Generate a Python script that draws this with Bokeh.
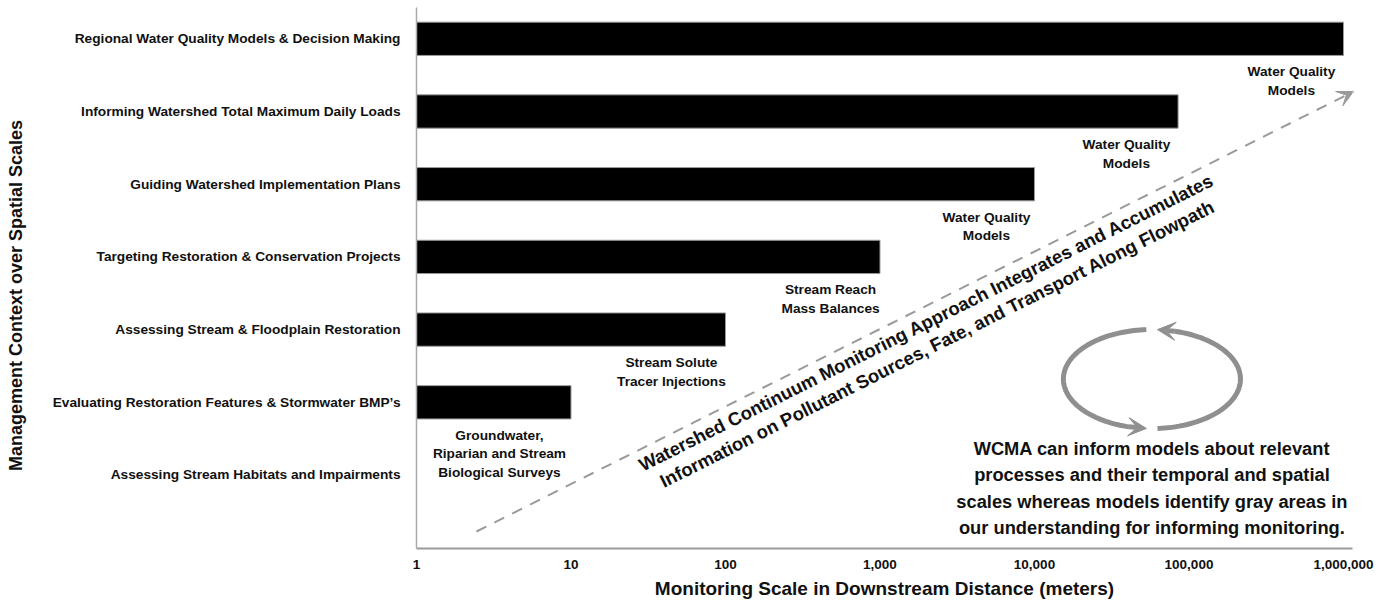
import numpy as np
from bokeh.plotting import figure
from bokeh.models import FixedTicker, NumeralTickFormatter, Arrow, VeeHead, LinearAxis
from bokeh.embed import file_html
from bokeh.resources import INLINE
from bokeh.core.properties import value

# ---------------- data ----------------
categories = [
    "Regional Water Quality Models & Decision Making",
    "Informing Watershed Total Maximum Daily Loads",
    "Guiding Watershed Implementation Plans",
    "Targeting Restoration & Conservation Projects",
    "Assessing Stream & Floodplain Restoration",
    "Evaluating Restoration Features & Stormwater BMP\u2019s",
    "Assessing Stream Habitats and Impairments",
]
scale_m = [1_000_000, 85_000, 10_000, 1_000, 100, 10, 1]
method_labels = [
    "Water Quality\nModels",
    "Water Quality\nModels",
    "Water Quality\nModels",
    "Stream Reach\nMass Balances",
    "Stream Solute\nTracer Injections",
    "Groundwater,\nRiparian and Stream\nBiological Surveys",
]
x_ticks = [1, 10, 100, 1_000, 10_000, 100_000, 1_000_000]
arrow_text = [
    "Watershed Continuum Monitoring Approach Integrates and Accumulates",
    "Information on Pollutant Sources, Fate, and Transport Along Flowpath",
]
wcma_text = ("WCMA can inform models about relevant\n"
             "processes and their temporal and spatial\n"
             "scales whereas models identify gray areas in\n"
             "our understanding for informing monitoring.")
x_title = "Monitoring Scale in Downstream Distance (meters)"
y_title = "Management Context over Spatial Scales"

# ---------------- layout (positions in log10-decades / row units) ----------------
FONT = "Liberation Sans"
n = len(categories)
rows = [n - 1 - i for i in range(n)]
method_label_dec = [5.663, 4.595, 3.689, 2.680, 1.650, 0.537]
GRAY = "#8f8f8f"
X_END_DEC = 936 / 154.5   # frame extends a little past 1,000,000

p = figure(width=1385, height=604, x_axis_type="log",
           x_range=(1, 10 ** X_END_DEC), y_range=(-1.011, 6.4305),
           output_backend="svg", toolbar_location=None,
           min_border_left=416, min_border_right=33,
           min_border_top=7, min_border_bottom=56)
p.outline_line_color = None
p.xgrid.visible = False
p.ygrid.visible = False
p.background_fill_color = "white"

# bars
p.hbar(y=rows, left=1, right=scale_m, height=0.458,
       fill_color="black", line_color="#9a9a9a", line_width=1)

# method labels under the bars
p.text(x=[10 ** d for d in method_label_dec],
       y=[r - 0.35 for r in rows[:len(method_labels)]],
       text=method_labels, text_font=value(FONT), text_font_style="bold",
       text_font_size="13.7px", text_align="center", text_baseline="top",
       text_line_height=1.24, text_color="#111111")

# dashed diagonal arrow
theta = np.arctan2(440, 877)
p.add_layout(Arrow(x_start=10 ** 0.388, y_start=-0.777,
                   x_end=10 ** 6.065, y_end=5.275,
                   line_color="#9a9a9a", line_width=2, line_dash="11 9",
                   end=VeeHead(size=16, fill_color="#9a9a9a",
                               line_color="#9a9a9a", line_width=1)))

# rotated explanatory text
p.text(x=[10 ** 3.300, 10 ** 3.370], y=[2.100, 1.805], text=arrow_text,
       angle=theta, text_font=value(FONT), text_font_style="bold",
       text_font_size="18.5px", text_align="center", text_baseline="middle",
       text_color="#111111")

# circular arrows
cx, cy, a, b = 4.760, 1.320, 0.573, 0.681

def ell(tdeg):
    t = np.radians(tdeg)
    return 10 ** (cx + a * np.cos(t)), cy + b * np.sin(t)

for t0, t1, t2 in [(93.6, 255.0, 266.4), (273.6, 435.0, 446.4)]:
    xs, ys = ell(np.linspace(t0, t1, 80))
    p.line(xs, ys, line_color=GRAY, line_width=5)
    xa, ya = ell(t1)
    xb, yb = ell(t2)
    p.add_layout(Arrow(x_start=float(xa), y_start=float(ya),
                       x_end=float(xb), y_end=float(yb),
                       line_color=GRAY, line_width=5,
                       end=VeeHead(size=18, fill_color=GRAY,
                                   line_color=GRAY, line_width=1)))

# WCMA text
p.text(x=[10 ** cx], y=[-0.179], text=[wcma_text], text_font=value(FONT),
       text_font_style="bold", text_font_size="18.3px", text_align="center",
       text_baseline="middle", text_line_height=1.26, text_color="#111111")

# axes
xa_ = p.xaxis[0]
xa_.ticker = FixedTicker(ticks=x_ticks)
xa_.formatter = NumeralTickFormatter(format="0,0")
xa_.major_tick_line_color = None
xa_.minor_tick_line_color = None
xa_.major_tick_out = 0
xa_.major_tick_in = 0
xa_.axis_line_color = "#9a9a9a"
xa_.axis_line_width = 2
xa_.major_label_standoff = 11
xa_.major_label_text_font = FONT
xa_.major_label_text_font_style = "bold"
xa_.major_label_text_font_size = "13.5px"
xa_.major_label_text_color = "#111111"
xa_.axis_label = x_title
xa_.axis_label_standoff = 6
xa_.axis_label_text_font = FONT
xa_.axis_label_text_font_style = "bold"
xa_.axis_label_text_font_size = "19px"
xa_.axis_label_text_color = "#111111"

ya_ = p.yaxis[0]
ya_.ticker = FixedTicker(ticks=rows)
ya_.major_label_overrides = {r: c for r, c in zip(rows, categories)}
ya_.major_tick_line_color = None
ya_.minor_tick_line_color = None
ya_.major_tick_out = 0
ya_.major_tick_in = 0
ya_.axis_line_color = "#aaaaaa"
ya_.axis_line_width = 1.5
ya_.major_label_standoff = 16
ya_.major_label_text_font = FONT
ya_.major_label_text_font_style = "bold"
ya_.major_label_text_font_size = "13.7px"
ya_.major_label_text_color = "#111111"

# second (line-less, tick-less) left axis that only carries the y title;
# trailing no-break spaces nudge the visible words a little below the frame centre
title_axis = LinearAxis(ticker=FixedTicker(ticks=[]), axis_line_color=None,
                        major_tick_line_color=None, minor_tick_line_color=None,
                        major_tick_out=0, major_tick_in=0,
                        axis_label=y_title + "\u00a0" * 7,
                        axis_label_standoff=24,
                        axis_label_text_font=FONT,
                        axis_label_text_font_style="bold",
                        axis_label_text_font_size="18px",
                        axis_label_text_color="#111111")
p.add_layout(title_axis, "left")

open("out.html", "w").write(file_html(p, INLINE))
